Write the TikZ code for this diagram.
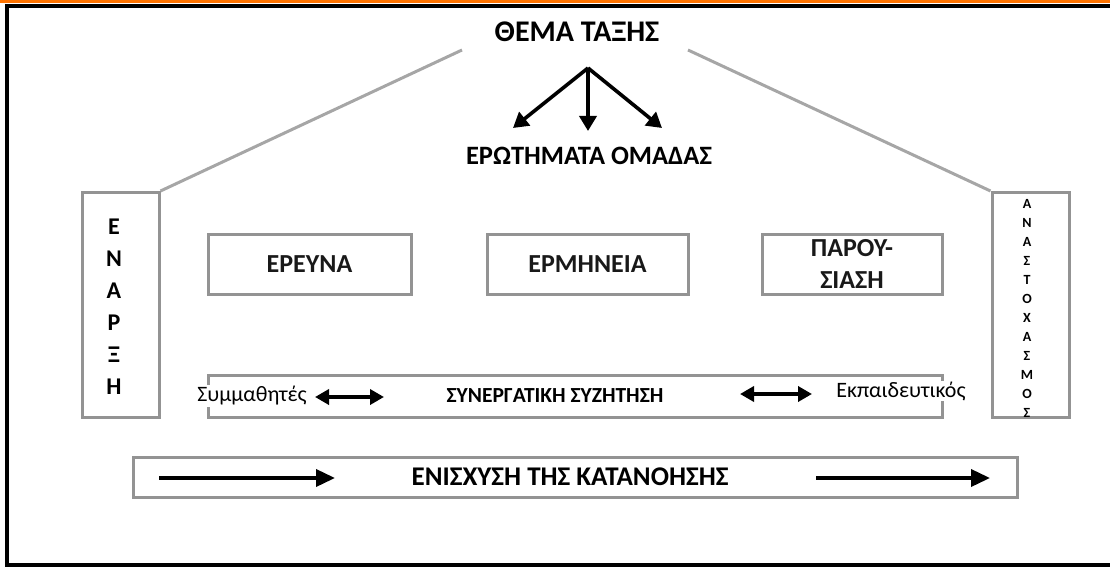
\documentclass[tikz,border=0pt]{standalone}
\usepackage{fontspec}
\setmainfont{Carlito}
\usetikzlibrary{arrows.meta,positioning}

\tikzset{
  stage/.style={draw=gray!85, line width=3pt, minimum height=60pt, font=\fontsize{26}{30}\bfseries\selectfont, text=black!90},
  side/.style={draw=gray!85, line width=3pt, minimum width=77pt, minimum height=225pt},
  roof/.style={draw=gray!70, line width=3pt},
  fork/.style={-{Triangle[length=15pt,width=17pt]}, line width=3.6pt},
  both/.style={{Triangle[length=14pt,width=15pt]}-{Triangle[length=14pt,width=15pt]}, line width=3.6pt},
  push/.style={-{Triangle[length=19pt,width=17pt]}, line width=3.6pt},
}

\begin{document}
\begin{tikzpicture}[x=1pt,y=-1pt]
  \useasboundingbox (0,0) rectangle (1110,567);
  % frame
  \begin{scope}
    \clip (0,0) rectangle (1110,567);
    \draw [line width=3.5pt, orange!90!red] (0,1) -- (1110,1);
    \draw [line width=4pt] (7,6.5) rectangle (1120,565);
  \end{scope}

  \node [font=\fontsize{30}{34}\bfseries\selectfont] (theme) at (577,32) {ΘΕΜΑ ΤΑΞΗΣ};
  \coordinate (top) at (588,68);
  \coordinate (q1) at (513,128);
  \coordinate (q2) at (588,131);
  \coordinate (q3) at (662,128);
  \draw [fork] (top) -- (q1);
  \draw [fork] (top) -- (q2);
  \draw [fork] (top) -- (q3);
  \node [font=\fontsize{26.5}{30}\bfseries\selectfont] (questions) at (589,156) {ΕΡΩΤΗΜΑΤΑ ΟΜΑΔΑΣ};

  % side boxes
  \node [side] (start) at (120.5,305) {};
  \node [side] (reflect) at (1030.5,305) {};
  \node [align=center, font=\fontsize{24}{32}\bfseries\selectfont] at (114,307) {Ε\\Ν\\Α\\Ρ\\Ξ\\Η};
  \node [align=center, font=\fontsize{14}{19}\bfseries\selectfont] at (1027,308) {Α\\Ν\\Α\\Σ\\Τ\\Ο\\Χ\\Α\\Σ\\Μ\\Ο\\Σ};
  \coordinate (roofL) at (462,50);
  \coordinate (roofR) at (688,50);
  \draw [roof] (start.north east) -- (roofL);
  \draw [roof] (reflect.north west) -- (roofR);

  % stages
  \node [stage, minimum width=203pt] (research) at (309.5,264) {ΕΡΕΥΝΑ};
  \node [stage, minimum width=201pt] (meaning) at (587.5,264) {ΕΡΜΗΝΕΙΑ};
  \node [stage, minimum width=180pt, align=center, font=\fontsize{26}{32}\bfseries\selectfont] (present) at (852,264) {ΠΑΡΟΥ-\\ΣΙΑΣΗ};

  % discussion
  \node [draw=gray!85, line width=3pt, minimum width=734pt, minimum height=42pt] (talk) at (575,396) {};
  \node [font=\fontsize{21.5}{25}\bfseries\selectfont] (talktext) at (555,396) {ΣΥΝΕΡΓΑΤΙΚΗ ΣΥΖΗΤΗΣΗ};
  \node [fill=white, inner sep=1pt, font=\fontsize{22}{25}\selectfont] (peers) at (252,396) {Συμμαθητές};
  \node [fill=white, inner sep=1pt, font=\fontsize{22}{25}\selectfont] (teacher) at (901,391) {Εκπαιδευτικός};
  \coordinate (p1) at (315,397);
  \coordinate (p2) at (384,397);
  \coordinate (t1) at (740,394);
  \coordinate (t2) at (812,394);
  \draw [both] (p1) -- (p2);
  \draw [both] (t1) -- (t2);

  % understanding
  \node [draw=gray!85, line width=3pt, minimum width=884pt, minimum height=40pt] (grow) at (575,477) {};
  \node [font=\fontsize{27}{30}\bfseries\selectfont] (growtext) at (570,477) {ΕΝΙΣΧΥΣΗ ΤΗΣ ΚΑΤΑΝΟΗΣΗΣ};
  \coordinate (g1) at (159,478);
  \coordinate (g2) at (335,478);
  \coordinate (g3) at (816,478);
  \coordinate (g4) at (990,478);
  \draw [push] (g1) -- (g2);
  \draw [push] (g3) -- (g4);
\end{tikzpicture}
\end{document}
